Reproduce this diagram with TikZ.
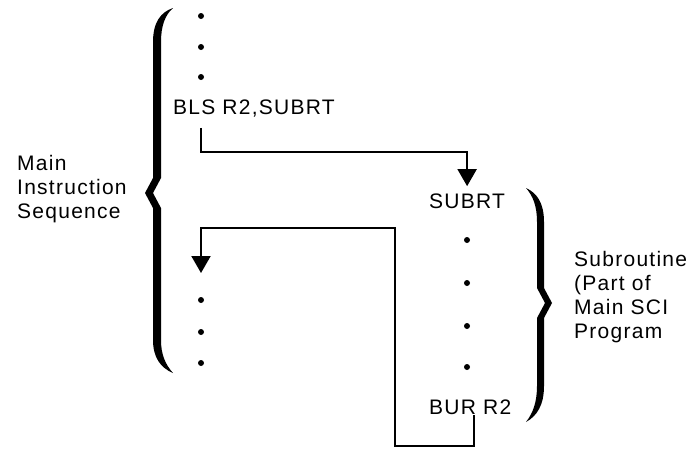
\documentclass[tikz,border=0pt]{standalone}
\usepackage{fontspec}
\setmainfont{Liberation Sans}
\newfontfamily\lblfont{Liberation Sans}[LetterSpace=6]
\usetikzlibrary{arrows.meta}
\begin{document}
\begin{tikzpicture}[x=1pt,y=-1pt,
  lbl/.style={font=\lblfont\fontsize{21}{24}\selectfont, inner sep=0pt, anchor=base west},
  conn/.style={line width=2pt, line join=miter},
  arr/.style={conn, -{Triangle[width=19pt,length=17pt]}},
  dotmark/.style={circle, fill=black, inner sep=0pt, minimum size=6pt},
  bracefill/.style={fill=black}]
\useasboundingbox (0,0) rectangle (696,451);

% texts
\node[lbl] (bls) at (173,114) {BLS R2,SUBRT};
\node[lbl] (sub) at (429,208) {SUBRT};
\node[lbl] (bur) at (429,414) {BUR R2};
\node[lbl, align=left] (main) at (17,218) {Main\\Instruction\\Sequence};
\node[lbl, align=left] (subr) at (574,338) {Subroutine\\(Part of\\Main SCI\\Program};

% dots, main sequence
\node[dotmark] (d1) at (201,16) {};
\node[dotmark] (d2) at (201,47) {};
\node[dotmark] (d3) at (201,77) {};
\node[dotmark] (d4) at (201,300) {};
\node[dotmark] (d5) at (201,332) {};
\node[dotmark] (d6) at (201,363) {};
% dots, subroutine
\node[dotmark] (s1) at (467,240) {};
\node[dotmark] (s2) at (467,283) {};
\node[dotmark] (s3) at (467,326) {};
\node[dotmark] (s4) at (467,367) {};

% braces
\fill[bracefill] (173,8) .. controls (161,12) and (153,22) .. (153,42) -- (153,178) -- (145,193) -- (153,208) -- (153,340)
  .. controls (153,358) and (161,368) .. (173,373)
  .. controls (165,364) and (161,354) .. (161,340) -- (161,208) -- (153,193) -- (161,178) -- (161,42)
  .. controls (161,26) and (165,15) .. (173,8) -- cycle;
\fill[bracefill] (526,188) .. controls (537,193) and (544,203) .. (544,222) -- (544,288) -- (552,303) -- (544,318) -- (544,386)
  .. controls (544,405) and (537,416) .. (526,422)
  .. controls (533,413) and (537,402) .. (537,386) -- (537,318) -- (545,303) -- (537,288) -- (537,222)
  .. controls (537,206) and (533,196) .. (526,188) -- cycle;

% connectors
\coordinate (r1) at (0,152);
\coordinate (b1) at (395,446);
\coordinate (b2) at (395,228);
\coordinate (tgt) at (201,273);
\coordinate (st1) at ([xshift=28pt,yshift=-11pt]bls.south west);
\coordinate (st2) at ([xshift=4pt,yshift=-1pt]bur.south);
\draw[arr] (st1) -- (st1 |- r1) -| ([yshift=7pt]sub.north);
\draw[arr] (st2) |- (b1) -- (b2) -| (tgt);
\end{tikzpicture}
\end{document}
